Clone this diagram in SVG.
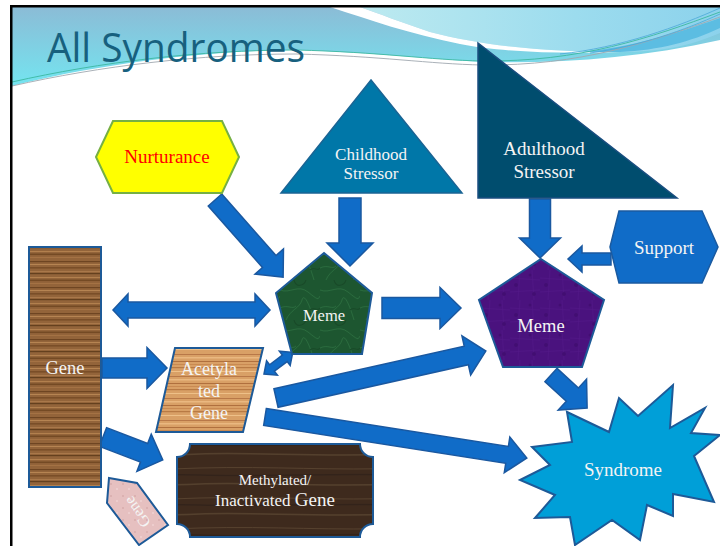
<svg xmlns="http://www.w3.org/2000/svg" width="720" height="546" viewBox="0 0 720 546">
<defs>
<style>
.lbl{font-family:"Liberation Serif","DejaVu Serif",serif;fill:#f4f4f4;text-anchor:middle}
.arr{fill:#106cc8;stroke:#1a58a0;stroke-width:1.5;stroke-linejoin:miter}
.node{stroke:#1d5a98;stroke-width:2}
</style>
<linearGradient id="hdrL" x1="0" y1="0" x2="0" y2="1">
<stop offset="0" stop-color="#8bbcd6"/><stop offset="1" stop-color="#74e4f0"/>
</linearGradient>
<linearGradient id="hdrR" x1="0" y1="0" x2="1" y2="0">
<stop offset="0" stop-color="#bdeaf0"/><stop offset="0.6" stop-color="#9cdcee"/><stop offset="1" stop-color="#8cd2ec"/>
</linearGradient>
<pattern id="woodA" patternUnits="userSpaceOnUse" width="80" height="26">
<rect width="80" height="26" fill="#93643a"/>
<rect y="1" width="80" height="1.2" fill="#6e4522"/>
<rect y="4" width="80" height="1" fill="#b68452"/>
<rect y="7" width="80" height="1.6" fill="#7a4e28"/>
<rect y="11" width="80" height="1" fill="#a9784a"/>
<rect y="13" width="80" height="1.2" fill="#64401e"/>
<rect y="17" width="80" height="1" fill="#b2804e"/>
<rect y="19.5" width="80" height="1.6" fill="#744a24"/>
<rect y="23" width="80" height="1" fill="#a47244"/>
</pattern>
<pattern id="woodB" patternUnits="userSpaceOnUse" width="90" height="22">
<rect width="90" height="22" fill="#d9a066"/>
<rect y="2" width="90" height="1" fill="#b87848"/>
<rect y="5" width="90" height="1.5" fill="#eab880"/>
<rect y="9" width="90" height="1" fill="#b0703e"/>
<rect y="12" width="90" height="1" fill="#c98a52"/>
<rect y="15" width="90" height="1.2" fill="#b87a44"/>
<rect y="19" width="90" height="1" fill="#eec088"/>
</pattern>
<pattern id="woodC" patternUnits="userSpaceOnUse" width="200" height="30">
<rect width="200" height="30" fill="#3e2a1d"/>
<path d="M0,4 C50,2 120,7 200,4" stroke="#54402d" stroke-width="1.5" fill="none"/>
<path d="M0,11 C60,13 130,9 200,11" stroke="#30201500" stroke-width="1.2" fill="none"/>
<path d="M0,18 C70,16 140,21 200,18" stroke="#56412e" stroke-width="1" fill="none"/>
<path d="M0,25 C50,27 140,23 200,25" stroke="#33231a" stroke-width="1.5" fill="none"/>
</pattern>
<pattern id="marble" patternUnits="userSpaceOnUse" width="40" height="40">
<rect width="40" height="40" fill="#1d5630"/>
<path d="M0,10 C10,14 18,4 28,12 S38,20 40,16 M6,40 C10,30 20,28 22,20 S30,26 34,40 M0,28 C8,24 12,30 16,26" stroke="#2f7444" stroke-width="0.7" fill="none"/>
<path d="M14,0 C16,8 24,6 26,0 M30,30 C34,26 38,32 40,28" stroke="#184a28" stroke-width="1.2" fill="none"/>
</pattern>
<pattern id="purple" patternUnits="userSpaceOnUse" width="30" height="30">
<rect width="30" height="30" fill="#4a127e"/>
<path d="M0,8 L30,10 M0,22 L30,20 M10,0 L8,30 M22,0 L24,30" stroke="#521888" stroke-width="0.6"/>
<circle cx="6" cy="15" r="2" fill="#420e72"/><circle cx="20" cy="5" r="1.5" fill="#420e72"/><circle cx="24" cy="24" r="2" fill="#420e72"/>
</pattern>
<pattern id="pink" patternUnits="userSpaceOnUse" width="12" height="12">
<rect width="12" height="12" fill="#e6c0c0"/>
<circle cx="3" cy="4" r="1" fill="#d8acac"/><circle cx="9" cy="9" r="1" fill="#f0d2d2"/>
</pattern>
</defs>
<rect width="720" height="546" fill="#ffffff"/>
<g id="header">
<path d="M12,7 H720 V40 C640,58 560,64 482,62 C420,58 360,52 300,50 C200,50 90,66 12,86 Z" fill="url(#hdrL)"/>
<path d="M360,7 H720 V33 C690,46 660,52 620,52 C540,52 480,45 430,32 C400,22 380,14 360,7 Z" fill="url(#hdrR)"/>
<path d="M330,7 C370,20 410,34 460,44 C500,52 560,54 620,52 C540,52 480,45 430,32 C400,22 380,14 360,7 Z" fill="#ffffff"/>
<path d="M580,52 C630,48 680,32 720,18 V28 C690,42 660,50 620,52 Z" fill="#5cbde2"/>
<path d="M12,82 C100,62 200,50 296,50 C380,52 430,60 482,61 C580,62 650,38 720,12" stroke="#3cb8a0" stroke-width="0.9" fill="none"/>
<path d="M12,86 C100,66 200,54 296,54 C380,56 430,64 482,65 C580,66 650,42 720,17" stroke="#a0a8b0" stroke-width="0.9" fill="none"/>
<path d="M560,54 C620,48 680,26 720,8 M590,53 C640,46 685,30 720,14" stroke="#4aa8d8" stroke-width="0.8" fill="none"/>
<rect x="10" y="5" width="710" height="2.5" fill="#000000"/>
<rect x="10" y="5" width="2.5" height="541" fill="#000000"/>
<text x="47" y="62" font-family="'Open Sans','Liberation Sans',sans-serif" font-size="41" fill="#17607e" textLength="258" lengthAdjust="spacingAndGlyphs">All Syndromes</text>
</g>
<g id="connectors">
<path class="arr" transform="translate(215,200) rotate(48.6)" d="M0,-9 H82 V-19 L103,0 L82,19 V9 H0 Z"/>
<path class="arr" transform="translate(350,198) rotate(90)" d="M0,-11 H45 V-23 L68,0 L45,23 V11 H0 Z"/>
<path class="arr" transform="translate(540,199) rotate(90)" d="M0,-10.5 H39 V-20.5 L59,0 L39,20.5 V10.5 H0 Z"/>
<path class="arr" transform="translate(611,259) rotate(180)" d="M0,-6 H29 V-13 L43,0 L29,13 V6 H0 Z"/>
<path class="arr" transform="translate(382,308)" d="M0,-10.5 H58 V-20.5 L79,0 L58,20.5 V10.5 H0 Z"/>
<path class="arr" transform="translate(113,310)" d="M0,0 L15,-16 V-8 H142 V-16 L157,0 L142,16 V8 H15 V16 Z"/>
<path class="arr" transform="translate(102,368)" d="M0,-10 H45 V-20.5 L65,0 L45,20.5 V10 H0 Z"/>
<path class="arr" transform="translate(103,437) rotate(21)" d="M0,-10 H44 V-20 L64,0 L44,20 V10 H0 Z"/>
<path class="arr" transform="translate(264,374) rotate(-37)" d="M0,0 L10,-9 V-4 H26 V-9 L36,0 L26,9 V4 H10 V9 Z"/>
<path class="arr" transform="translate(276,398) rotate(-12.6)" d="M0,-9.5 H195 V-20 L215,0 L195,20 V9.5 H0 Z"/>
<path class="arr" transform="translate(265,417) rotate(8.9)" d="M0,-8.5 H245 V-18 L265,0 L245,18 V8.5 H0 Z"/>
<path class="arr" transform="translate(551,375) rotate(42.5)" d="M0,-9 H29 V-21 L49,0 L29,21 V9 H0 Z"/>
</g>
<g id="nurturance">
<polygon points="96,157 113,121 222,121 239,157 222,193 113,193" fill="#ffff00" stroke="#76b043" stroke-width="2"/>
<text x="167" y="163" font-family="'Liberation Serif',serif" font-size="19" fill="#ff0000" text-anchor="middle">Nurturance</text>
</g>
<g id="childhood">
<polygon points="371,80 281,193 462,193" fill="#0077a8" stroke="#1a6494" stroke-width="1.5"/>
<text class="lbl" x="371" y="160" font-size="17">Childhood</text>
<text class="lbl" x="371" y="179" font-size="17">Stressor</text>
</g>
<g id="adulthood">
<polygon points="478,43 478,198 677,198" fill="#004d6e" stroke="#1a4e80" stroke-width="1.5"/>
<text class="lbl" x="544" y="155" font-size="19">Adulthood</text>
<text class="lbl" x="544" y="178" font-size="19">Stressor</text>
</g>
<g id="support">
<polygon points="610,247 619,211 702,211 718,247 702,283 619,283" fill="#106cc8" stroke="#1a5aa0" stroke-width="1.5"/>
<text class="lbl" x="664" y="254" font-size="19">Support</text>
</g>
<g id="gene">
<rect class="node" x="29" y="247" width="72" height="240" fill="url(#woodA)"/>
<text class="lbl" x="65" y="374" font-size="18.5">Gene</text>
</g>
<g id="meme1">
<polygon class="node" points="324,253 372,293 362,354 292,354 276,293" fill="url(#marble)"/>
<text class="lbl" x="324" y="321" font-size="16.5">Meme</text>
</g>
<g id="meme2">
<polygon class="node" points="541,259 604,300 582,367 503,367 479,300" fill="url(#purple)"/>
<text class="lbl" x="541" y="332" font-size="18.5">Meme</text>
</g>
<g id="acetylated">
<polygon class="node" points="175,348 263,348 243,432 156,432" fill="url(#woodB)"/>
<text class="lbl" x="209" y="375" font-size="18">Acetyla</text>
<text class="lbl" x="209" y="397" font-size="18">ted</text>
<text class="lbl" x="209" y="419" font-size="18">Gene</text>
</g>
<g id="methylated">
<path class="node" d="M190,444 H360 A13,13 0 0 0 373,457 V524 A13,13 0 0 0 360,537 H190 A13,13 0 0 0 177,524 V457 A13,13 0 0 0 190,444 Z" fill="url(#woodC)"/>
<text class="lbl" x="275" y="485" font-size="15">Methylated/</text>
<text class="lbl" x="275" y="506" font-size="17">Inactivated <tspan font-size="19">Gene</tspan></text>
</g>
<g id="gene-tag">
<polygon class="node" points="109,478 137,483 168,525 139,545 107,503" fill="url(#pink)"/>
<text class="lbl" transform="translate(137,512) rotate(-125)" x="0" y="5.5" font-size="16">Gene</text>
</g>
<g id="syndrome">
<polygon class="node" points="567,412 609,432 619,398 638,416 673,385 670,428 705,408 691,433 720,435 694,456 714,502 673,494 673,516 647,505 640,540 612,520 575,545 570,517 535,518 555,495 520,480 550,465 532,447 572,442" fill="#009fd8"/>
<text class="lbl" x="623" y="476" font-size="19">Syndrome</text>
</g>
</svg>
